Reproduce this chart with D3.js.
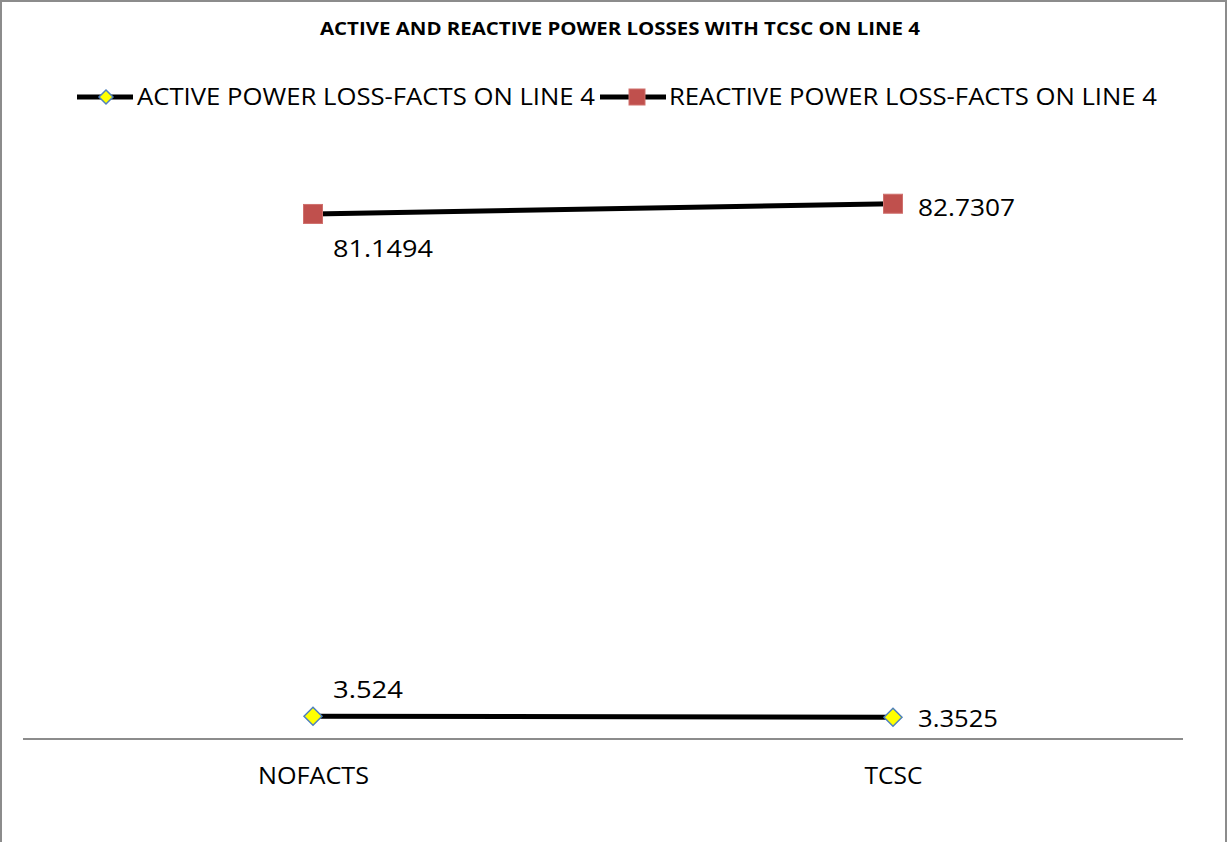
<!DOCTYPE html>
<html><head><meta charset="utf-8">
<script src="https://cdn.jsdelivr.net/npm/d3@7"></script>
<style>html,body{margin:0;padding:0;background:#fff;} svg{display:block;}</style>
</head><body>
<script>
const categories = ["NOFACTS", "TCSC"];
const activeLoss = [3.524, 3.3525];
const reactiveLoss = [81.1494, 82.7307];
const seriesNames = ["ACTIVE POWER LOSS-FACTS ON LINE 4", "REACTIVE POWER LOSS-FACTS ON LINE 4"];
const title = "ACTIVE AND REACTIVE POWER LOSSES WITH TCSC ON LINE 4";

const W = 1228, H = 842;
const font = "'Open Sans', 'DejaVu Sans', sans-serif";
const svg = d3.select("body").append("svg").attr("width", W).attr("height", H);
svg.append("rect").attr("x", 1).attr("y", 1).attr("width", W - 3).attr("height", H + 5)
  .attr("fill", "#fff").attr("stroke", "#8c8c8c").attr("stroke-width", 2);

const x = d3.scalePoint().domain(categories).range([23, 1183]).padding(0.5);
const y = d3.scaleLinear().domain([0, 100]).range([739, 92]);

svg.append("text").attr("x", 620).attr("y", 35).attr("text-anchor", "middle")
  .attr("font-family", font).attr("font-weight", "bold").attr("font-size", 18)
  .attr("textLength", 600).attr("lengthAdjust", "spacingAndGlyphs").text(title);

// x axis
const xAxis = d3.axisBottom(x).tickSize(0).tickPadding(28);
const gx = svg.append("g").attr("transform", `translate(0,${y(0)})`).call(xAxis);
gx.select(".domain").attr("stroke", "#8c8c8c").attr("stroke-width", 2).attr("d", `M23,0H1183`);
gx.selectAll("text").attr("font-family", font).attr("font-size", 24).attr("fill", "#000")
  .each(function (d) {
    const w = d === "NOFACTS" ? 111 : 58;
    d3.select(this).attr("textLength", w).attr("lengthAdjust", "spacingAndGlyphs");
  });

const line = d3.line().x((d, i) => x(categories[i])).y(d => y(d));

function diamond(g, cx, cy, r) {
  g.append("path").attr("d", `M${cx},${cy - r}L${cx + r},${cy}L${cx},${cy + r}L${cx - r},${cy}Z`)
    .attr("fill", "#ffff00").attr("stroke", "#4f81bd").attr("stroke-width", 1.5);
}
function square(g, cx, cy, s) {
  g.append("rect").attr("x", cx - s / 2).attr("y", cy - s / 2).attr("width", s).attr("height", s)
    .attr("fill", "#c0504d").attr("stroke", "#d0706d").attr("stroke-width", 1);
}

const plot = svg.append("g");
plot.append("path").datum(activeLoss).attr("d", line).attr("fill", "none").attr("stroke", "#000").attr("stroke-width", 5);
plot.append("path").datum(reactiveLoss).attr("d", line).attr("fill", "none").attr("stroke", "#000").attr("stroke-width", 5);
activeLoss.forEach((v, i) => diamond(plot, x(categories[i]), y(v), 9));
reactiveLoss.forEach((v, i) => square(plot, x(categories[i]), y(v), 19));

const lbl = (tx, ty, t, w) => plot.append("text").attr("x", tx).attr("y", ty)
  .attr("font-family", font).attr("font-size", 24).attr("fill", "#000")
  .attr("textLength", w).attr("lengthAdjust", "spacingAndGlyphs").text(t);
// data labels
lbl(x(categories[0]) + 20, y(reactiveLoss[0]) + 43, reactiveLoss[0].toString(), 100);
lbl(x(categories[1]) + 25, y(reactiveLoss[1]) + 12, reactiveLoss[1].toString(), 97);
lbl(x(categories[0]) + 20, y(activeLoss[0]) - 18, activeLoss[0].toString(), 70);
lbl(x(categories[1]) + 25, y(activeLoss[1]) + 10, activeLoss[1].toString(), 80);

// legend
const lg = svg.append("g");
const ly = 97;
lg.append("line").attr("x1", 77).attr("x2", 133).attr("y1", ly).attr("y2", ly).attr("stroke", "#000").attr("stroke-width", 5);
diamond(lg, 106, ly, 7);
lg.append("text").attr("x", 137).attr("y", ly + 8).attr("font-family", font).attr("font-size", 24)
  .attr("textLength", 458).attr("lengthAdjust", "spacingAndGlyphs").text(seriesNames[0]);
lg.append("line").attr("x1", 600).attr("x2", 666).attr("y1", ly).attr("y2", ly).attr("stroke", "#000").attr("stroke-width", 5);
square(lg, 637, ly, 16);
lg.append("text").attr("x", 669).attr("y", ly + 8).attr("font-family", font).attr("font-size", 24)
  .attr("textLength", 488).attr("lengthAdjust", "spacingAndGlyphs").text(seriesNames[1]);
</script>
</body></html>
